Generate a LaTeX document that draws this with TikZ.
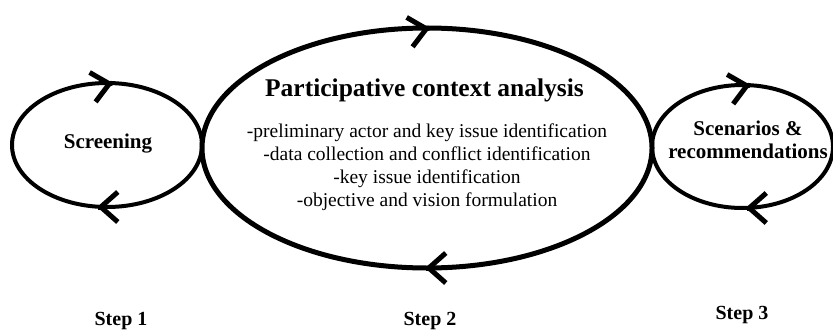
\documentclass[tikz,border=0pt]{standalone}
\usepackage{fontspec}
\setmainfont{Liberation Serif}
\usetikzlibrary{arrows.meta,positioning,shapes.geometric}
\tikzset{
  stageloop/.style={
    draw=black,
    ellipse,
    line width=4bp,
    outer sep=0pt,
    inner sep=0pt
  },
  stagetitle/.style={font=\fontsize{21bp}{23bp}\selectfont\bfseries, align=center, inner sep=0pt},
  stagehead/.style={font=\fontsize{25.5bp}{28bp}\selectfont\bfseries, inner sep=0pt, anchor=base},
  stagetext/.style={font=\fontsize{19.5bp}{23bp}\selectfont, align=center, inner sep=0pt},
  steplabel/.style={font=\fontsize{20bp}{22bp}\selectfont\bfseries, inner sep=0pt, anchor=base},
  looptip/.style={-{Straight Barb[length=17bp, width=30bp]}, line width=5bp, draw=black}
}

\begin{document}
\begin{tikzpicture}[x=1bp, y=1bp]
\useasboundingbox (0,0) rectangle (833,329);
% the three stages, touching side by side
\node[stageloop, minimum width=190bp, minimum height=124bp] (screen) at (107,184) {};
\node[stageloop, line width=5bp, minimum width=450bp, minimum height=240bp, right=0pt of screen, yshift=-3bp] (context) {};
\node[stageloop, minimum width=181bp, minimum height=123bp, right=0pt of context, yshift=1.5bp] (scen) {};

\node[stagetitle, anchor=base] (screenlbl) at ([xshift=1bp, yshift=-3bp]screen.center) {Screening};
\node[stagehead] (contexthead) at ([xshift=-2.5bp, yshift=52bp]context.center) {Participative context analysis};
\node[stagetext] (contextnotes) at ([yshift=-19bp]context.center) {-preliminary actor and key issue identification\\-data collection and conflict identification\\-key issue identification\\-objective and vision formulation};
\node[stagetitle] (scenlbl) at ([xshift=5.5bp, yshift=7bp]scen.center) {Scenarios \&\\recommendations};

% clockwise direction marks on each loop
\foreach \n/\dx in {screen/6,context/3,scen/8}
  \draw[looptip] ([shift={(\dx-1,-0.2)}]\n.north) -- ([xshift=\dx]\n.north);
\foreach \n/\dx in {screen/-10,context/-2,scen/3}
  \draw[looptip] ([shift={(\dx+1,0)}]\n.south) -- ([xshift=\dx]\n.south);

\node[steplabel] (step1) at (121,4) {Step 1};
\node[steplabel] (step2) at (430,4) {Step 2};
\node[steplabel] (step3) at (742,10) {Step 3};
\end{tikzpicture}
\end{document}
